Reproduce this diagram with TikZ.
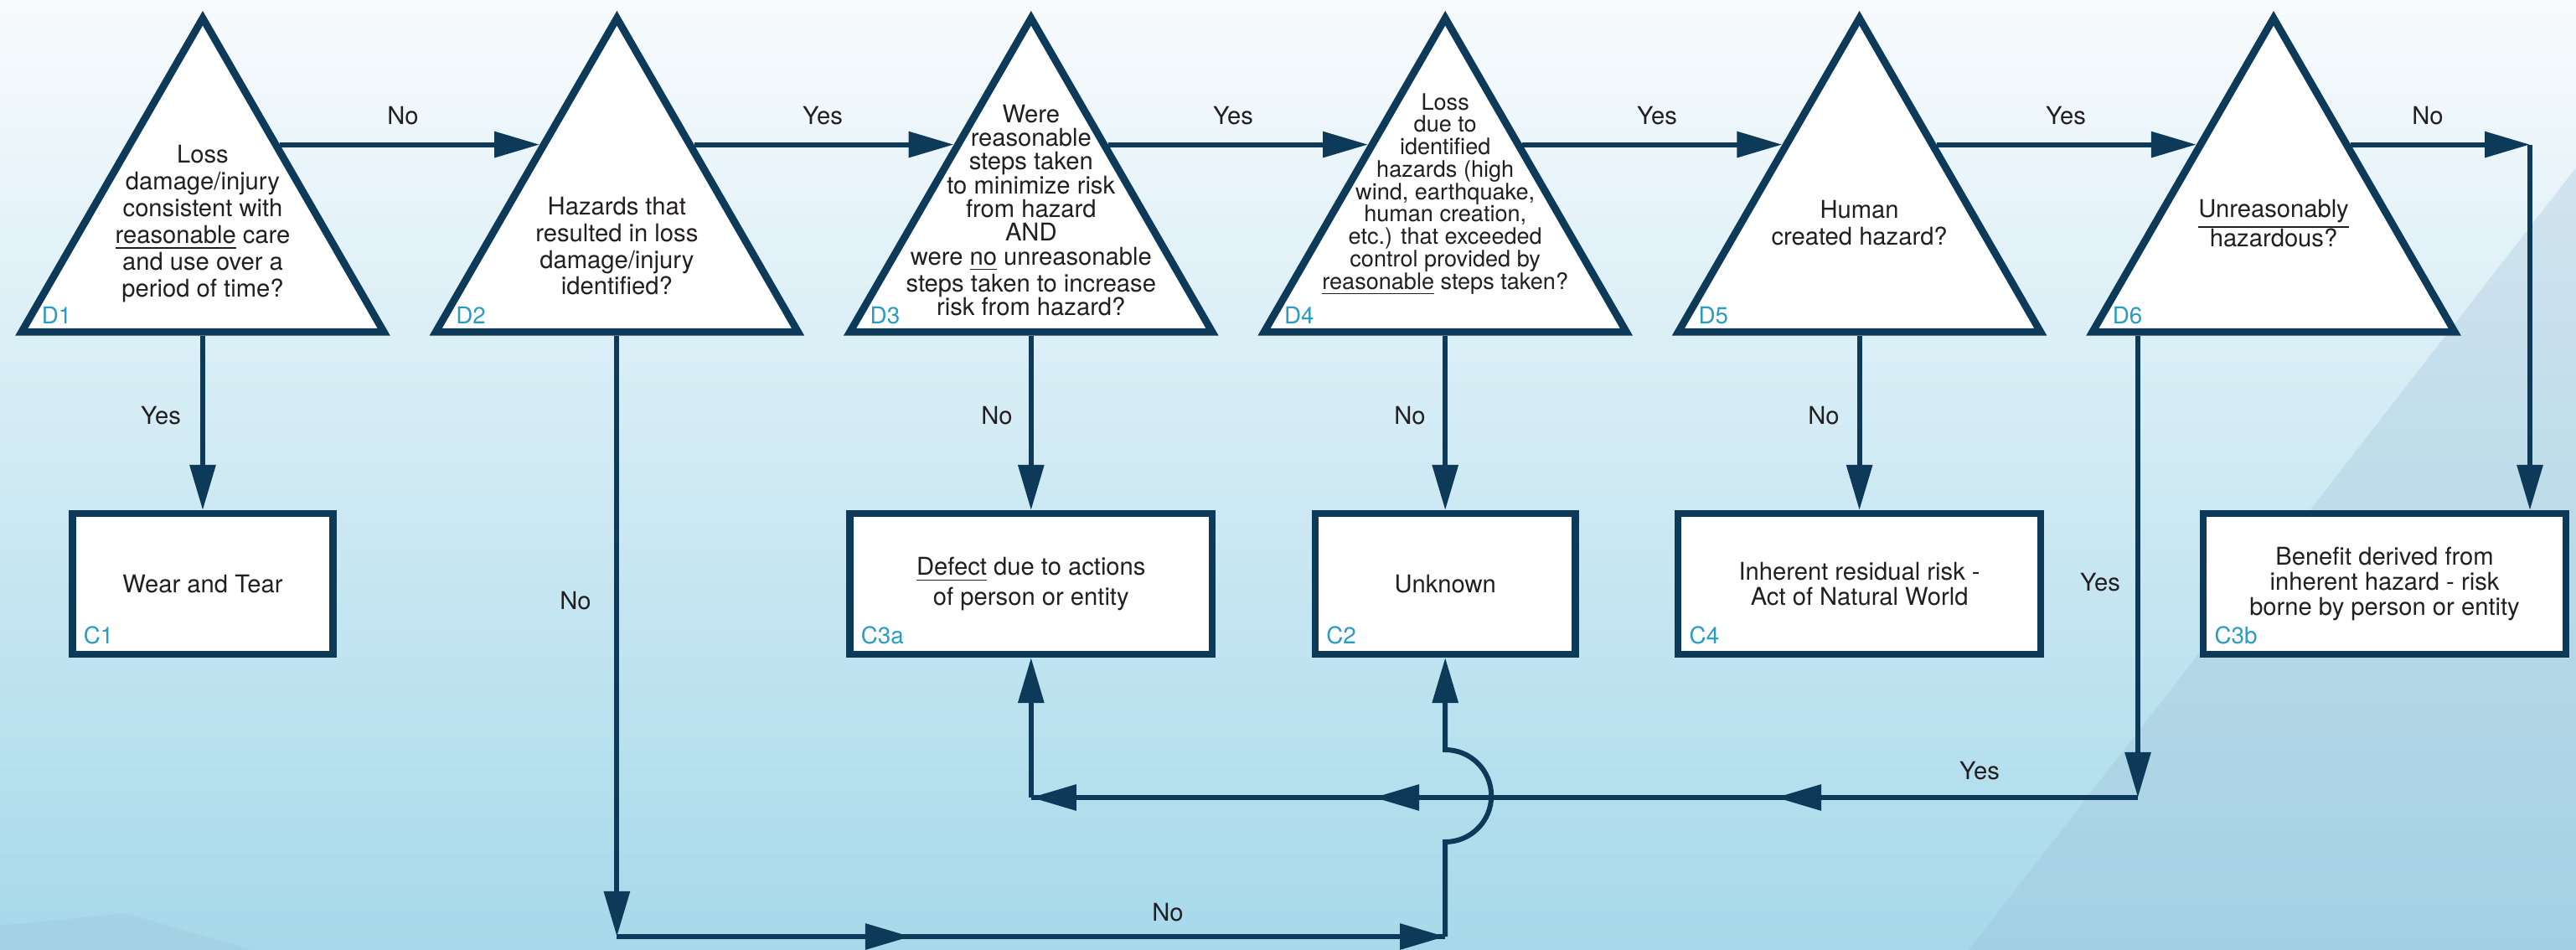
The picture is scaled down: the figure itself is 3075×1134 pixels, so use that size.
\documentclass[tikz,border=0pt]{standalone}
\usepackage{fontspec}
\setmainfont{TeX Gyre Heros}
\usetikzlibrary{shapes.geometric,arrows.meta}

\definecolor{navy}{HTML}{0E3A5A}
\definecolor{tagblue}{HTML}{2A9CC4}
\definecolor{ink}{HTML}{231F20}
\definecolor{bgtop}{HTML}{F8FBFD}
\definecolor{bgmid}{HTML}{DDF0F7}
\definecolor{bgbot}{HTML}{A6D9EA}
\definecolor{bgside}{HTML}{9CBED6}

\tikzset{decision/.style = {regular polygon, regular polygon sides=3, minimum size=4.99cm,
                            inner sep=0pt, draw=navy, line width=2.5pt, fill=white},
         outcome/.style = {rectangle, draw=navy, line width=2.4pt, fill=white,
                           minimum width=#1, minimum height=1.675cm, align=center,
                           text=ink, font=\fontsize{8.3}{10}\selectfont},
         outcome/.default=4.325cm,
         question/.style = {align=center, inner sep=0pt, text=ink,
                            font=\fontsize{8.3}{#1}\selectfont},
         question/.default=9,
         tag/.style = {anchor=base west, inner sep=0pt, text=tagblue,
                       font=\fontsize{7.9}{8}\selectfont},
         answer/.style = {inner sep=0pt, text=ink, font=\fontsize{8.3}{9}\selectfont},
         wire/.style = {draw=navy, line width=1.7pt},
         flow/.style = {wire, -{Triangle[length=5.4mm, width=3mm]}}
        }

\begin{document}
\begin{tikzpicture}[x=0.01cm, y=-0.01cm]
  \useasboundingbox (0,0) rectangle (3075,1134);
  \fill[top color=bgtop, middle color=bgmid, bottom color=bgbot] (0,0) rectangle (3075,1134);
  \fill[bgside, opacity=0.3] (2350,1134) -- (3075,200) -- (3075,1134) -- cycle;
  \fill[bgside, opacity=0.25] (0,1134) -- (0,1105) -- (150,1090) -- (300,1134) -- cycle;

  \node[decision] (D1) at (242,271.4) {};
  \node[decision] (D2) at (736.4,271.4) {};
  \node[decision] (D3) at (1230.8,271.4) {};
  \node[decision] (D4) at (1725.2,271.4) {};
  \node[decision] (D5) at (2219.6,271.4) {};
  \node[decision] (D6) at (2714,271.4) {};

  \node[question=9.1] (q1) at (242,267) {Loss\\damage/injury\\consistent with\\\underline{reasonable} care\\and use over a\\period of time?};
  \node[question=9] (q2) at (736.4,294) {Hazards that\\resulted in loss\\damage/injury\\identified?};
  \node[question=8.05] (q3) at (1230.8,251) {Were\\reasonable\\steps taken\\to minimize risk\\from hazard\\AND\\were \underline{no} unreasonable\\steps taken to increase\\risk from hazard?};
  \node[question, font=\fontsize{7.7}{7.6}\selectfont] (q4) at (1725.2,232) {Loss\\due to\\identified\\hazards (high\\wind, earthquake,\\human creation,\\etc.) that exceeded\\control provided by\\\underline{reasonable} steps taken?};
  \node[question=9.1] (q5) at (2219.6,266) {Human\\created hazard?};
  \node[question=10] (q6) at (2714,267) {\underline{Unreasonably}\\hazardous?};

  \node[tag] (t1) at ([shift={(31,-14)}]D1.corner 2) {D1};
  \node[tag] (t2) at ([shift={(31,-14)}]D2.corner 2) {D2};
  \node[tag] (t3) at ([shift={(31,-14)}]D3.corner 2) {D3};
  \node[tag] (t4) at ([shift={(31,-14)}]D4.corner 2) {D4};
  \node[tag] (t5) at ([shift={(31,-14)}]D5.corner 2) {D5};
  \node[tag] (t6) at ([shift={(31,-14)}]D6.corner 2) {D6};

  \node[outcome=3.11cm] (C1) at (242,697) {Wear and Tear};
  \node[outcome] (C3a) at (1230.8,697) {\underline{Defect} due to actions\\of person or entity};
  \node[outcome=3.105cm] (C2) at (1725.2,697) {Unknown};
  \node[outcome, font=\fontsize{8.3}{8.3}\selectfont] (C4) at (2219.6,697) {Inherent residual risk -\\Act of Natural World};
  \node[outcome, font=\fontsize{8.3}{8.6}\selectfont] (C3b) at (2846.5,697) {Benefit derived from\\inherent hazard - risk\\borne by person or entity};

  \node[tag] (u1) at ([shift={(17,-17)}]C1.south west) {C1};
  \node[tag] (u3a) at ([shift={(17,-17)}]C3a.south west) {C3a};
  \node[tag] (u2) at ([shift={(17,-17)}]C2.south west) {C2};
  \node[tag] (u4) at ([shift={(17,-17)}]C4.south west) {C4};
  \node[tag] (u3b) at ([shift={(17,-17)}]C3b.south west) {C3b};

  \coordinate (n2) at (736.4,1118);
  \coordinate (b1) at (1087,1118);
  \coordinate (b2) at (1725.2,1118);
  \coordinate (h1) at (1725.2,1005);
  \coordinate (y6) at (2552,952);
  \coordinate (a1) at (2120,952);
  \coordinate (a2) at (1640,952);
  \coordinate (a3) at (1230.8,952);
  \coordinate (n6) at (3020,173);

  \draw[flow] (D1.47) -- (D1.47 -| D2.133);
  \draw[flow] (D2.47) -- (D2.47 -| D3.133);
  \draw[flow] (D3.47) -- (D3.47 -| D4.133);
  \draw[flow] (D4.47) -- (D4.47 -| D5.133);
  \draw[flow] (D5.47) -- (D5.47 -| D6.133);
  \draw[flow] (D6.47) -- (D6.47 -| n6);
  \draw[flow] (n6) -- (n6 |- C3b.north);

  \draw[flow] (D1.south) -- (C1.north);
  \draw[flow] (D3.south) -- (C3a.north);
  \draw[flow] (D4.south) -- (C2.north);
  \draw[flow] (D5.south) -- (C4.north);

  \draw[wire] (n2) -- (b2);
  \draw[flow] (D2.south) -- (n2);
  \draw[flow] (n2) -- (b1);
  \draw[flow] (b1) -- (b2);
  \draw[flow] (b2) -- (h1) arc[start angle=90, end angle=-90, radius=55] -- (C2.south);

  \draw[wire] (y6) -- (a3);
  \draw[flow] (y6 |- D6.south) -- (y6);
  \draw[flow] (y6) -- (a1);
  \draw[flow] (a1) -- (a2);
  \draw[flow] (a2) -- (a3);
  \draw[flow] (a3) -- (C3a.south);

  \node[answer] (l12) at (481,138) {No};
  \node[answer] (l23) at (982,138) {Yes};
  \node[answer] (l34) at (1472,138) {Yes};
  \node[answer] (l45) at (1978,138) {Yes};
  \node[answer] (l56) at (2466,138) {Yes};
  \node[answer] (l6r) at (2898,138) {No};
  \node[answer] (l1d) at (192,496) {Yes};
  \node[answer] (l2d) at (687,717) {No};
  \node[answer] (l3d) at (1190,496) {No};
  \node[answer] (l4d) at (1683,496) {No};
  \node[answer] (l5d) at (2177,496) {No};
  \node[answer] (l6d) at (2507,695) {Yes};
  \node[answer] (l6l) at (2363,920) {Yes};
  \node[answer] (lbt) at (1394,1089) {No};
\end{tikzpicture}
\end{document}
